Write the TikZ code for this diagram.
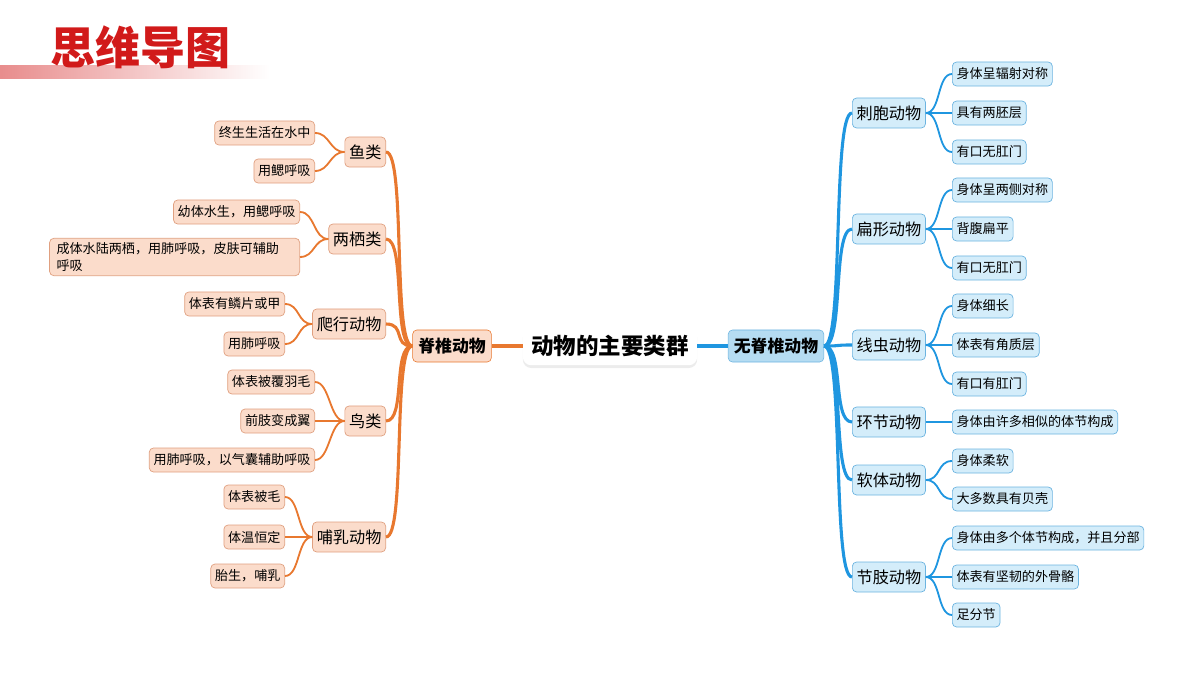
\documentclass[tikz,border=0pt]{standalone}
\usepackage{fontspec}
\setmainfont{Noto Sans CJK SC}
\usetikzlibrary{shadows,fadings}
\definecolor{og}{HTML}{E8782F}
\definecolor{ogf}{HTML}{FBDCCB}
\definecolor{ogd}{HTML}{E0A080}
\definecolor{bl}{HTML}{1F96E0}
\definecolor{blf}{HTML}{D4EDFA}
\definecolor{bld}{HTML}{6CB4E0}
\definecolor{titred}{HTML}{D11A1A}
\begin{document}
\begin{tikzpicture}[x=0.025cm,y=-0.025cm,
  lleaf/.style={draw=ogd,fill=ogf,rounded corners=3pt,font=\fontsize{9.3}{12}\selectfont,inner sep=3pt,minimum height=0.6cm,anchor=east,line width=0.5pt},
  lcat/.style={draw=ogd,fill=ogf,rounded corners=3pt,font=\fontsize{11.5}{13}\selectfont,inner sep=3pt,minimum height=0.75cm,anchor=east,line width=0.5pt},
  rleaf/.style={draw=bld,fill=blf,rounded corners=3pt,font=\fontsize{9.3}{12}\selectfont,inner sep=3pt,minimum height=0.6cm,anchor=west,line width=0.5pt},
  rcat/.style={draw=bld,fill=blf,rounded corners=3pt,font=\fontsize{11.5}{13}\selectfont,inner sep=3pt,minimum height=0.75cm,anchor=west,line width=0.5pt},
  lcon/.style={og,line width=1.3pt},
  rcon/.style={bl,line width=1.3pt}]
\useasboundingbox (0,0) rectangle (1200,675);
% title
\shade[left color=titred!50,right color=white,draw=none] (0,66) rectangle (270,79);
\node[font=\fontsize{32}{34}\selectfont\bfseries,text=titred,anchor=west,inner sep=0pt] (title) at (50,47) {思维导图};
% center
\node[fill=white,rounded corners=6pt,drop shadow={opacity=0.15,shadow xshift=0pt,shadow yshift=-2pt},font=\fontsize{16}{18}\selectfont\bfseries,inner sep=6pt] (root) at (610,346) {动物的主要类群};
\node[draw=og,fill=ogf,rounded corners=3pt,font=\fontsize{12}{14}\selectfont\bfseries,minimum height=0.8cm,inner sep=4pt] (vert) at (452,346) {脊椎动物};
\node[draw=bld,fill=blf!70!bld,rounded corners=3pt,font=\fontsize{12}{14}\selectfont\bfseries,minimum height=0.8cm,inner sep=4pt] (invert) at (776,346) {无脊椎动物};
\draw[og,line width=3pt] (root.west) -- (vert.east);
\draw[bl,line width=3pt] (root.east) -- (invert.west);
% left categories
\node[lcat] (fish) at (386,152) {鱼类};
\node[lcat] (amph) at (386,239) {两栖类};
\node[lcat] (rept) at (386,324) {爬行动物};
\node[lcat] (bird) at (386,421) {鸟类};
\node[lcat] (mamm) at (386,537) {哺乳动物};
\foreach \c in {fish,amph,rept,bird,mamm}
  \draw[og,line width=2.2pt] (vert.west) .. controls +(-20,0) and +(20,0) .. (\c.east);
% left leaves
\node[lleaf] (f1) at (315,133) {终生生活在水中};
\node[lleaf] (f2) at (315,171) {用鳃呼吸};
\node[lleaf] (a1) at (300,212) {幼体水生，用鳃呼吸};
\node[lleaf,minimum width=6.25cm,align=left,text width=5.9cm] (a2) at (300,257) {成体水陆两栖，用肺呼吸，皮肤可辅助\\呼吸};
\node[lleaf] (r1) at (285,304) {体表有鳞片或甲};
\node[lleaf] (r2) at (285,344) {用肺呼吸};
\node[lleaf] (b1) at (315,382) {体表被覆羽毛};
\node[lleaf] (b2) at (315,421) {前肢变成翼};
\node[lleaf] (b3) at (315,460) {用肺呼吸，以气囊辅助呼吸};
\node[lleaf] (m1) at (285,497) {体表被毛};
\node[lleaf] (m2) at (285,537) {体温恒定};
\node[lleaf] (m3) at (285,576) {胎生，哺乳};
\foreach \c/\l in {fish/f1,fish/f2,amph/a1,amph/a2,rept/r1,rept/r2,bird/b1,bird/b2,bird/b3,mamm/m1,mamm/m2,mamm/m3}
  \draw[lcon] (\c.west) .. controls +(-15,0) and +(15,0) .. (\l.east);
% right categories
\node[rcat] (cni) at (852,113) {刺胞动物};
\node[rcat] (pla) at (852,229) {扁形动物};
\node[rcat] (nem) at (852,345) {线虫动物};
\node[rcat] (ann) at (852,422) {环节动物};
\node[rcat] (mol) at (852,480) {软体动物};
\node[rcat] (art) at (852,577) {节肢动物};
\foreach \c in {cni,pla,nem,ann,mol,art}
  \draw[bl,line width=2.2pt] (invert.east) .. controls +(20,0) and +(-20,0) .. (\c.west);
% right leaves
\node[rleaf] (c1) at (952,74) {身体呈辐射对称};
\node[rleaf] (c2) at (952,113) {具有两胚层};
\node[rleaf] (c3) at (952,152) {有口无肛门};
\node[rleaf] (p1) at (952,190) {身体呈两侧对称};
\node[rleaf] (p2) at (952,229) {背腹扁平};
\node[rleaf] (p3) at (952,268) {有口无肛门};
\node[rleaf] (n1) at (952,306) {身体细长};
\node[rleaf] (n2) at (952,345) {体表有角质层};
\node[rleaf] (n3) at (952,384) {有口有肛门};
\node[rleaf] (e1) at (952,422) {身体由许多相似的体节构成};
\node[rleaf] (o1) at (952,461) {身体柔软};
\node[rleaf] (o2) at (952,499) {大多数具有贝壳};
\node[rleaf] (t1) at (952,538) {身体由多个体节构成，并且分部};
\node[rleaf] (t2) at (952,577) {体表有坚韧的外骨骼};
\node[rleaf] (t3) at (952,615) {足分节};
\foreach \c/\l in {cni/c1,cni/c2,cni/c3,pla/p1,pla/p2,pla/p3,nem/n1,nem/n2,nem/n3,ann/e1,mol/o1,mol/o2,art/t1,art/t2,art/t3}
  \draw[rcon] (\c.east) .. controls +(15,0) and +(-15,0) .. (\l.west);
\end{tikzpicture}
\end{document}
